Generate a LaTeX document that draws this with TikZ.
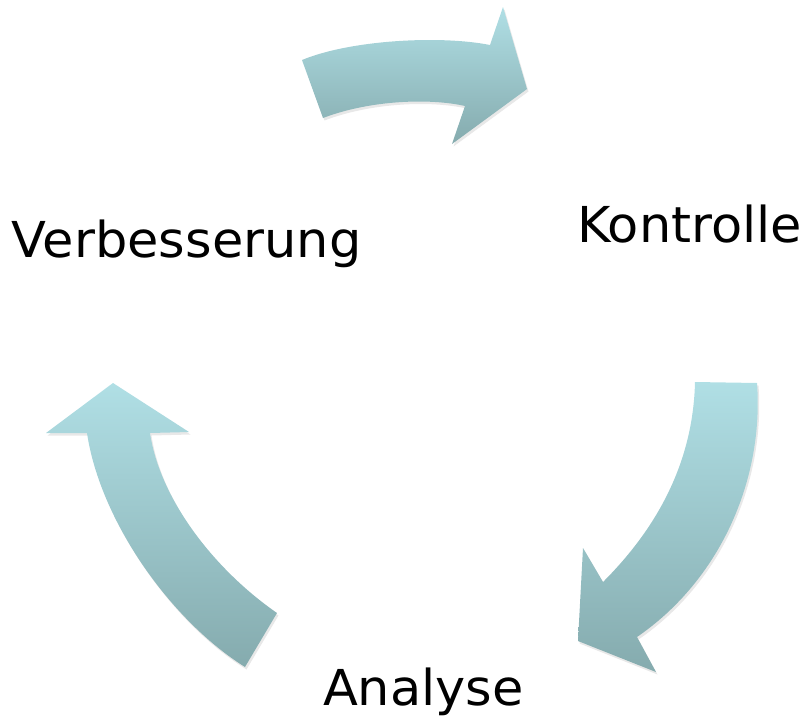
\documentclass[tikz,border=0pt]{standalone}
\usepackage{fontspec}
\setmainfont[FakeStretch=1.03]{DejaVu Sans}
\usetikzlibrary{shadows}
\definecolor{arrowtop}{RGB}{176,223,229}
\definecolor{arrowbot}{RGB}{133,171,174}
\tikzset{
  cyclearrow/.style={top color=arrowtop, bottom color=arrowbot, draw=none,
    drop shadow={opacity=0.18, shadow xshift=1.5pt, shadow yshift=-2.5pt}},
  label/.style={anchor=base west, inner sep=0pt, outer sep=0pt, text=black,
    font=\fontsize{49.5}{58}\selectfont}
}
\begin{document}
\begin{tikzpicture}[x=1pt,y=-1pt]
\useasboundingbox (0,0) rectangle (807,716);
% top arrow (Verbesserung -> Kontrolle)
\shade[cyclearrow] (302,60) .. controls (350,40) and (440,35) .. (490,45)
  -- (503,7) -- (527,89) -- (452,144) -- (465,106)
  .. controls (430,98) and (370,100) .. (323,118) -- cycle;
% right arrow (Kontrolle -> Analyse)
\shade[cyclearrow] (695,382) -- (757,383)
  .. controls (764,480) and (720,580) .. (637,637)
  -- (656,672) -- (578,641) -- (583,548) -- (603,582)
  .. controls (650,535) and (693,470) .. (695,382) -- cycle;
% left arrow (Analyse -> Verbesserung)
\shade[cyclearrow] (245,667) .. controls (170,620) and (100,520) .. (87,433)
  -- (46,433) -- (113,383) -- (189,432) -- (150,433)
  .. controls (160,500) and (215,570) .. (277,613) -- cycle;
% labels
\node[label] (verb) at (12,257) {Verbesserung};
\node[label] (kont) at (577,242) {Kontrolle};
\node[label] (anal) at (323,705) {Analyse};
\end{tikzpicture}
\end{document}
